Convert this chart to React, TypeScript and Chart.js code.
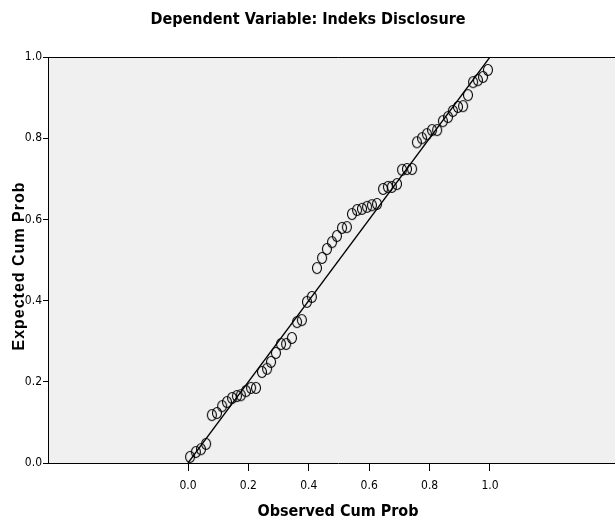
import React, { useEffect, useRef } from "react";
import { Chart, registerables } from "chart.js";

Chart.register(...registerables);

const TITLE = "Dependent Variable: Indeks Disclosure";
const X_TITLE = "Observed Cum Prob";
const Y_TITLE = "Expected Cum Prob";
const TICKS = [0, 0.2, 0.4, 0.6, 0.8, 1.0];

const OBSERVED = [
  0.007, 0.026, 0.043, 0.06, 0.079, 0.096, 0.113, 0.129, 0.146, 0.162,
  0.175, 0.192, 0.209, 0.225, 0.245, 0.262, 0.275, 0.291, 0.308, 0.325,
  0.344, 0.361, 0.377, 0.394, 0.41, 0.427, 0.444, 0.46, 0.477, 0.493,
  0.51, 0.526, 0.543, 0.56, 0.576, 0.593, 0.609, 0.626, 0.646, 0.662,
  0.675, 0.692, 0.709, 0.725, 0.742, 0.758, 0.775, 0.791, 0.808, 0.825,
  0.844, 0.861, 0.877, 0.894, 0.911, 0.927, 0.944, 0.96, 0.977, 0.993,
];
const EXPECTED = [
  0.015, 0.027, 0.034, 0.047, 0.118, 0.123, 0.14, 0.15, 0.16, 0.165,
  0.167, 0.177, 0.185, 0.185, 0.224, 0.232, 0.249, 0.271, 0.293, 0.293,
  0.308, 0.347, 0.352, 0.397, 0.409, 0.48, 0.505, 0.527, 0.544, 0.559,
  0.579, 0.581, 0.613, 0.623, 0.626, 0.631, 0.635, 0.638, 0.675, 0.68,
  0.68, 0.687, 0.722, 0.724, 0.724, 0.79, 0.8, 0.81, 0.82, 0.82,
  0.842, 0.852, 0.867, 0.877, 0.879, 0.906, 0.938, 0.943, 0.951, 0.968,
];
const REF_X = [0, 1];
const REF_Y = [0, 1];

const X_MIN = -0.4636;
const X_MAX = 1.457;

const CANVAS_W = 634;
const CANVAS_H = 527;

const NARROW = '"Liberation Sans Narrow", "Arial Narrow", "DejaVu Sans Condensed", sans-serif';
const WIDE = '"Liberation Sans", Arial, sans-serif';

function makeEllipse(): HTMLCanvasElement {
  const c = document.createElement("canvas");
  c.width = 12;
  c.height = 14;
  const ctx = c.getContext("2d")!;
  ctx.strokeStyle = "#000";
  ctx.lineWidth = 1.1;
  ctx.beginPath();
  ctx.ellipse(6, 7, 4.5, 5.5, 0, 0, Math.PI * 2);
  ctx.stroke();
  return c;
}

const framePlugin = {
  id: "frame",
  beforeDraw(chart: any) {
    const { ctx, chartArea: a } = chart;
    ctx.save();
    ctx.fillStyle = "#f0f0f0";
    ctx.fillRect(a.left, a.top, a.right - a.left, a.bottom - a.top);
    ctx.restore();
  },
  afterDraw(chart: any) {
    const { ctx, chartArea: a } = chart;
    ctx.save();
    ctx.strokeStyle = "#000";
    ctx.lineWidth = 1;
    ctx.beginPath();
    ctx.moveTo(a.left + 0.5, a.bottom + 0.5);
    ctx.lineTo(a.left + 0.5, a.top + 0.5);
    ctx.lineTo(a.right, a.top + 0.5);
    ctx.stroke();
    // main title, centred on the visible 615px window
    ctx.fillStyle = "#000";
    ctx.font = `bold 16px ${NARROW}`;
    ctx.textAlign = "center";
    ctx.textBaseline = "middle";
    ctx.fillText(TITLE, 308, 20);
    // rotated y-axis title with letter spacing
    ctx.font = `bold 16px ${WIDE}`;
    (ctx as any).letterSpacing = "1px";
    ctx.translate(20, (a.top + a.bottom) / 2 + 6);
    ctx.rotate(-Math.PI / 2);
    ctx.fillText(Y_TITLE, 0, 0);
    ctx.restore();
  },
};

export default function App() {
  const ref = useRef<HTMLCanvasElement | null>(null);
  useEffect(() => {
    if (!ref.current) return;
    const marker = makeEllipse();
    const chart = new Chart(ref.current, {
      type: "scatter",
      data: {
        datasets: [
          {
            data: OBSERVED.map((x, i) => ({ x, y: EXPECTED[i] })),
            pointStyle: marker as any,
            pointRadius: 5,
            showLine: false,
          },
          {
            type: "line",
            data: REF_X.map((x, i) => ({ x, y: REF_Y[i] })),
            borderColor: "#000",
            borderWidth: 1.3,
            pointRadius: 0,
            showLine: true,
            fill: false,
          } as any,
        ],
      },
      options: {
        responsive: false,
        animation: false,
        events: [],
        layout: { padding: { left: 0, right: 0, top: 57, bottom: 0 } },
        plugins: {
          legend: { display: false },
          tooltip: { enabled: false },
          title: { display: false, text: TITLE },
        },
        scales: {
          x: {
            type: "linear",
            min: X_MIN,
            max: X_MAX,
            afterBuildTicks: (s: any) => {
              s.ticks = TICKS.map((v) => ({ value: v }));
            },
            afterFit: (s: any) => {
              s.height = 64;
            },
            ticks: {
              color: "#000",
              font: { family: NARROW, size: 12 },
              padding: 8,
              autoSkip: false,
              maxRotation: 0,
              callback: (v: any) => Number(v).toFixed(1),
            },
            grid: {
              drawOnChartArea: false,
              drawTicks: true,
              tickLength: 8,
              color: "#000",
            },
            border: { display: true, color: "#000", width: 1 },
            title: {
              display: true,
              text: X_TITLE,
              color: "#000",
              font: { family: NARROW, size: 16, weight: "bold" },
              padding: { top: 0, bottom: 5.4 },
            },
          },
          y: {
            type: "linear",
            min: 0,
            max: 1,
            afterBuildTicks: (s: any) => {
              s.ticks = TICKS.map((v) => ({ value: v }));
            },
            afterFit: (s: any) => {
              s.width = 48;
            },
            ticks: {
              color: "#000",
              font: { family: NARROW, size: 12 },
              padding: 1,
              autoSkip: false,
              callback: (v: any) => Number(v).toFixed(1),
            },
            grid: {
              drawOnChartArea: false,
              drawTicks: true,
              tickLength: 5,
              color: "#000",
            },
            border: { display: true, color: "#000", width: 1 },
            title: { display: false, text: Y_TITLE },
          },
        },
      },
      plugins: [framePlugin],
    });
    return () => chart.destroy();
  }, []);
  return (
    <div style={{ position: "fixed", left: 0, top: 0, width: 615, height: 527, overflow: "hidden", background: "#fff" }}>
      <canvas ref={ref} width={CANVAS_W} height={CANVAS_H} style={{ display: "block", width: CANVAS_W, height: CANVAS_H }} />
    </div>
  );
}
